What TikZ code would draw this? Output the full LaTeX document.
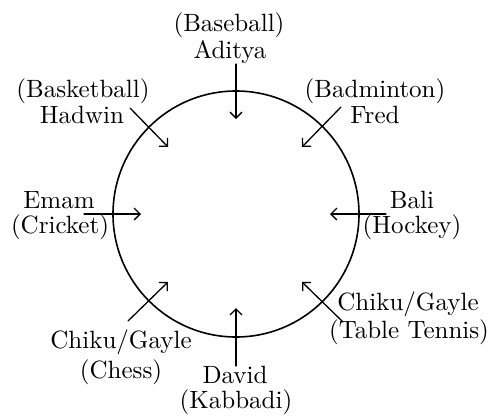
\documentclass[tikz,border=0pt]{standalone}
\usetikzlibrary{arrows.meta}
\newcommand\bigtxt[1]{\scalebox{2.5}{#1}}
\begin{document}
\begin{tikzpicture}[x=1pt,y=-1pt,line cap=round,line join=round,
  >={Straight Barb[length=6pt,width=12pt]},
  lbl/.style={inner sep=0pt,anchor=base},
  pointer/.style={->,line width=1.3pt}]
  \useasboundingbox (0,0) rectangle (495,418);
  \def\rr{123}
  % the table
  \coordinate (ctr) at (236,214);
  \draw[line width=1.6pt] (ctr) circle[radius=\rr];
  % top
  \node[lbl] (baseball) at (229,31) {\bigtxt{(Baseball)}};
  \node[lbl] (aditya) at (230,58) {\bigtxt{Aditya}};
  \coordinate (aditya-t) at (236,64);
  \coordinate (aditya-h) at (236,119);
  \draw[pointer] (aditya-t) -- (aditya-h);
  % upper left
  \node[lbl] (basket) at (83,97) {\bigtxt{(Basketball)}};
  \node[lbl] (hadwin) at (82,123) {\bigtxt{Hadwin}};
  \coordinate (hadwin-t) at (130,108);
  \coordinate (hadwin-h) at (168,147);
  \draw[pointer] (hadwin-t) -- (hadwin-h);
  % upper right
  \node[lbl] (badminton) at (375,97) {\bigtxt{(Badminton)}};
  \node[lbl] (fred) at (375,123) {\bigtxt{Fred}};
  \coordinate (fred-t) at (341,107);
  \coordinate (fred-h) at (302,147);
  \draw[pointer] (fred-t) -- (fred-h);
  % left
  \node[lbl] (emam) at (59,208) {\bigtxt{Emam}};
  \node[lbl] (cricket) at (60,233) {\bigtxt{(Cricket)}};
  \coordinate (emam-t) at (84,214);
  \coordinate (emam-h) at (141,214);
  \draw[pointer] (emam-t) -- (emam-h);
  % right
  \node[lbl] (bali) at (412,208) {\bigtxt{Bali}};
  \node[lbl] (hockey) at (412,233) {\bigtxt{(Hockey)}};
  \coordinate (bali-t) at (386,214);
  \coordinate (bali-h) at (330,214);
  \draw[pointer] (bali-t) -- (bali-h);
  % lower left
  \node[lbl] (chiku-a) at (121,348) {\bigtxt{Chiku/Gayle}};
  \node[lbl] (chess) at (121,378) {\bigtxt{(Chess)}};
  \coordinate (chess-t) at (128,321);
  \coordinate (chess-h) at (168,282);
  \draw[pointer] (chess-t) -- (chess-h);
  % bottom
  \node[lbl] (david) at (235,383) {\bigtxt{David}};
  \node[lbl] (kabbadi) at (236,408) {\bigtxt{(Kabbadi)}};
  \coordinate (david-t) at (236,366);
  \coordinate (david-h) at (236,308);
  \draw[pointer] (david-t) -- (david-h);
  % lower right
  \node[lbl] (chiku-b) at (408,310) {\bigtxt{Chiku/Gayle}};
  \node[lbl] (tennis) at (409,338) {\bigtxt{(Table Tennis)}};
  \coordinate (tennis-t) at (343,322);
  \coordinate (tennis-h) at (302,282);
  \draw[pointer] (tennis-t) -- (tennis-h);
\end{tikzpicture}
\end{document}
